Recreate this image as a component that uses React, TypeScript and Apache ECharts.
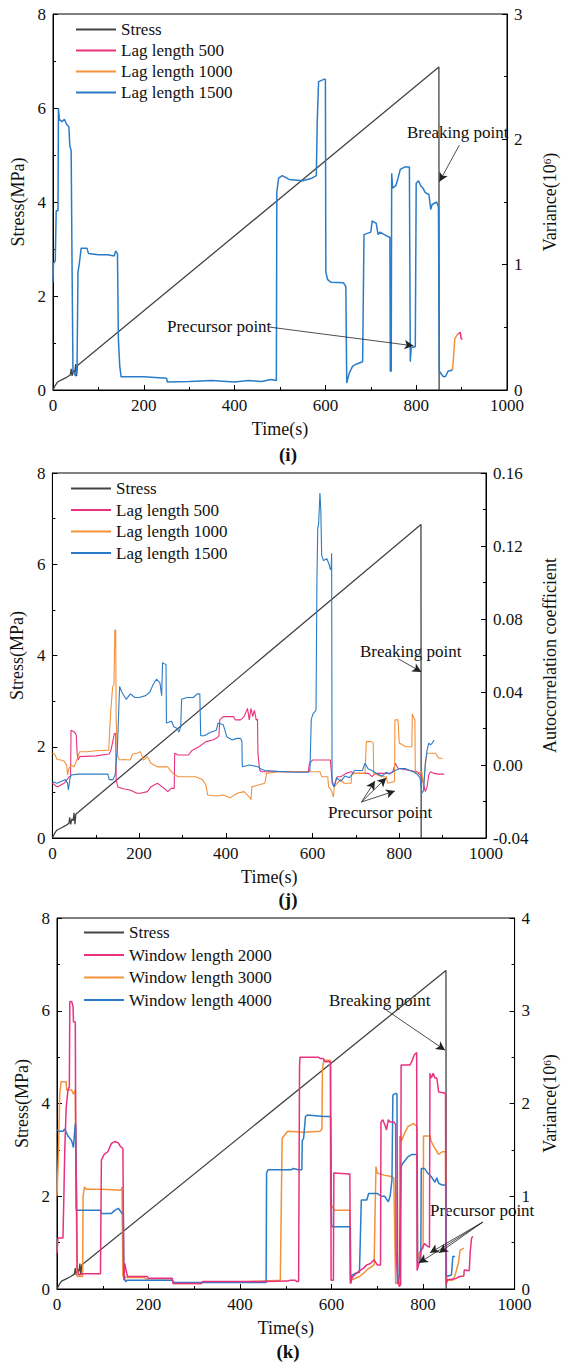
import React, { useEffect, useRef } from "react";
import * as echarts from "echarts";

const FONT = "'Liberation Serif', 'Times New Roman', serif";
const C_STRESS = "#444444";
const C_PINK = "#e8327f";
const C_ORANGE = "#f4923a";
const C_BLUE = "#2a7cc8";

// Stress (MPa) vs time (s), shared by the three panels
const stress: number[][] = [
  [0, 0], [5, 0.1], [10, 0.17], [20, 0.22], [30, 0.27], [38, 0.32], [40, 0.45], [42, 0.3],
  [45, 0.42], [48, 0.38], [50, 0.55], [52, 0.3], [54, 0.52], [850, 6.87], [850.5, 0],
];

// Panel (i): variance (10^6)
const iLag1500: number[][] = [
  [0, 0.86], [1, 1.01], [5, 1.03], [7, 1.43], [11, 1.43], [12, 2.25], [14, 2.16], [20, 2.14],
  [25, 2.16], [30, 2.12], [35, 2.1], [37, 1.95], [40, 1.91], [42, 0.98], [44, 0.15], [47, 0.13],
  [50, 0.11], [53, 0.19], [55, 0.94], [58, 1.01], [62, 1.13], [75, 1.13], [78, 1.09], [100, 1.08],
  [120, 1.08], [135, 1.07], [138, 1.11], [142, 1.09], [144, 0.41], [147, 0.19], [150, 0.105],
  [200, 0.105], [250, 0.094], [252, 0.064], [300, 0.068], [350, 0.075], [400, 0.064], [430, 0.075],
  [460, 0.068], [480, 0.083], [492, 0.075], [493, 1.58], [497, 1.69], [505, 1.71], [520, 1.68],
  [550, 1.67], [570, 1.69], [580, 1.71], [582, 2.14], [585, 2.46], [598, 2.48], [600, 2.48],
  [601, 0.94], [605, 0.88], [612, 0.86], [640, 0.855], [645, 0.825], [647, 0.056], [652, 0.13],
  [660, 0.19], [670, 0.21], [682, 0.225], [685, 1.24], [700, 1.26], [703, 1.35], [712, 1.33],
  [716, 1.24], [720, 1.26], [740, 1.22], [742, 1.22], [743, 0.15], [745, 0.15], [746, 1.73],
  [748, 1.61], [755, 1.63], [760, 1.69], [765, 1.76], [775, 1.78], [785, 1.78], [787, 0.225],
  [789, 0.34], [798, 0.345], [800, 1.65], [805, 1.67], [810, 1.63], [815, 1.61], [820, 1.575],
  [828, 1.56], [832, 1.44], [835, 1.48], [845, 1.5], [849, 1.46], [851, 0.15], [855, 0.13],
  [860, 0.105], [865, 0.11], [870, 0.15], [880, 0.16],
];
const iLag1000: number[][] = [[880, 0.16], [883, 0.3], [885, 0.41], [890, 0.44], [893, 0.45]];
const iLag500: number[][] = [[893, 0.45], [897, 0.46], [899, 0.41], [902, 0.405]];

// Panel (j): autocorrelation coefficient
const jLag500: number[][] = [
  [0, -0.01], [11, -0.012], [27, -0.01], [39, -0.0064], [42, -0.006], [43, 0.019], [51, 0.018],
  [55, 0.0164], [57, 0.0064], [59, 0.0027], [63, 0.0046], [100, 0.005], [131, 0.006], [135, 0.008],
  [143, 0.0173], [146, 0.0173], [147, -0.008], [151, -0.012], [163, -0.013], [179, -0.0137],
  [195, -0.0155], [203, -0.0155], [219, -0.0146], [227, -0.012], [242, -0.01], [258, -0.0128],
  [266, -0.0146], [274, -0.0128], [281, -0.0128], [282, 0.0064], [290, 0.0055], [314, 0.0055],
  [322, 0.008], [338, 0.01], [354, 0.0128], [370, 0.0137], [378, 0.0146], [384, 0.016],
  [386, 0.0247], [394, 0.0265], [418, 0.0265], [422, 0.0247], [434, 0.0247], [442, 0.0265],
  [450, 0.031], [454, 0.0247], [458, 0.031], [462, 0.0265], [466, 0.03], [470, 0.0247],
  [473, 0.025], [474, 0.0064], [478, -0.0027], [482, -0.0037], [520, -0.0037], [560, -0.0037],
  [590, -0.0037], [593, 0.001], [600, 0.0027], [641, 0.0027], [645, -0.008], [649, -0.012],
  [657, -0.0064], [665, -0.0064], [677, -0.0046], [689, -0.0037], [697, -0.0046], [729, -0.0046],
  [737, -0.0064], [745, -0.0046], [777, -0.0046], [785, -0.0037], [791, 0.001], [797, -0.0018],
  [817, -0.0027], [841, -0.0037], [852, -0.0064], [860, -0.0146], [864, -0.012], [868, -0.0055],
  [872, -0.0037], [880, -0.0046], [890, -0.005], [904, -0.005],
];
const jLag1000: number[][] = [
  [0, 0.0064], [5, 0.006], [11, 0.003], [20, 0.0027], [27, 0.002], [33, 0], [35, -0.0055],
  [38, -0.002], [43, 0], [50, -0.001], [55, 0.002], [59, 0.0046], [63, 0.0073], [80, 0.0073],
  [100, 0.0078], [120, 0.008], [130, 0.0082], [132, 0.019], [135, 0.031], [139, 0.043],
  [142, 0.044], [144, 0.074], [146, 0.074], [147, 0.025], [150, 0.006], [151, 0.0046],
  [155, 0.0027], [165, 0.003], [179, 0.0027], [185, 0.006], [195, 0.0064], [203, 0.0073],
  [210, 0.0027], [219, 0.0046], [227, 0.001], [242, -0.001], [266, -0.001], [272, -0.003],
  [280, -0.005], [290, -0.0064], [330, -0.0064], [346, -0.008], [354, -0.011], [358, -0.0164],
  [378, -0.017], [394, -0.0164], [410, -0.018], [426, -0.0155], [442, -0.0146], [456, -0.018],
  [458, -0.019], [460, -0.012], [475, -0.011], [490, -0.01], [494, -0.0046], [520, -0.0037],
  [617, -0.0037], [621, -0.0064], [635, -0.0064], [637, -0.012], [643, -0.0137], [648, -0.0175],
  [650, -0.012], [657, -0.01], [665, -0.008], [673, -0.01], [689, -0.01], [690, -0.0055],
  [697, -0.0046], [721, -0.0046], [724, 0.0128], [735, 0.0128], [740, 0.012], [741, -0.0046],
  [760, -0.0064], [770, -0.0064], [773, -0.01], [789, -0.009], [790, 0.0247], [797, 0.0247],
  [800, 0.012], [815, 0.01], [829, 0.01], [830, 0.028], [833, 0.026], [836, 0.025],
  [837, -0.0046], [852, -0.0037], [856, -0.012], [860, 0], [864, 0.0064], [884, 0.0064],
  [888, 0.0046], [892, 0.0037], [900, 0.0037],
];
const jLag1500: number[][] = [
  [0, -0.009], [10, -0.01], [20, -0.009], [30, -0.008], [35, -0.01], [37, -0.0137], [40, -0.008],
  [43, -0.0055], [60, -0.005], [90, -0.0049], [128, -0.005], [131, -0.008], [140, -0.008],
  [145, -0.005], [150, 0.01], [153, 0.03], [155, 0.043], [160, 0.04], [170, 0.036], [180, 0.039],
  [190, 0.037], [200, 0.037], [215, 0.038], [225, 0.04], [232, 0.044], [240, 0.047], [248, 0.045],
  [252, 0.038], [254, 0.056], [262, 0.055], [263, 0.023], [275, 0.024], [280, 0.021], [288, 0.02],
  [292, 0.018], [296, 0.021], [298, 0.036], [310, 0.037], [325, 0.037], [334, 0.039],
  [340, 0.039], [342, 0.016], [350, 0.016], [365, 0.018], [378, 0.019], [382, 0.023],
  [394, 0.022], [398, 0.019], [402, 0.0155], [415, 0.0137], [426, 0.0146], [434, 0.0146],
  [437, 0.013], [438, -0.001], [455, 0], [474, -0.001], [480, -0.002], [490, -0.003],
  [520, -0.0035], [560, -0.004], [590, -0.004], [594, -0.003], [597, 0.025], [601, 0.028],
  [608, 0.03], [610, 0.1], [612, 0.13], [614, 0.132], [617, 0.149], [619, 0.14], [621, 0.115],
  [625, 0.112], [633, 0.113], [638, 0.11], [641, 0.107], [643, 0.108], [644, 0.116], [645, -0.01],
  [650, -0.012], [655, -0.007], [665, -0.009], [675, -0.006], [685, -0.007], [697, -0.003],
  [715, -0.003], [721, 0.001], [728, -0.002], [737, -0.003], [750, -0.005], [761, -0.006],
  [770, -0.004], [777, -0.005], [790, -0.003], [801, -0.002], [815, -0.002], [825, -0.003],
  [835, -0.004], [841, -0.005], [848, -0.007], [852, -0.0155], [856, -0.014], [860, 0.001],
  [864, 0.008], [868, 0.012], [872, 0.011], [876, 0.012], [880, 0.0137],
];

// Panel (k): variance (10^6)
const kWin2000: number[][] = [
  [0, 0.385], [2, 0.55], [13, 0.55], [15, 1.0], [17, 1.5], [20, 1.95], [24, 2.15], [27, 2.18],
  [28, 3.1], [32, 3.1], [35, 3.05], [36, 2.88], [40, 2.88], [41, 1.5], [43, 1.0], [44, 0.225],
  [48, 0.15], [55, 0.165], [95, 0.165], [97, 1.39], [103, 1.45], [111, 1.48], [119, 1.57],
  [127, 1.59], [134, 1.575], [138, 1.54], [144, 1.515], [146, 0.095], [148, 0.275], [150, 0.225],
  [154, 0.135], [197, 0.135], [200, 0.115], [252, 0.115], [254, 0.06], [315, 0.06], [318, 0.08],
  [457, 0.08], [504, 0.085], [510, 0.095], [520, 0.095], [524, 0.08], [528, 0.08], [530, 2.4],
  [531, 2.5], [571, 2.5], [575, 2.485], [582, 2.485], [586, 2.45], [598, 2.45], [599, 0.095],
  [604, 0.095], [605, 1.25], [640, 1.24], [641, 0.06], [645, 0.125], [655, 0.175], [670, 0.225],
  [677, 0.26], [685, 0.275], [693, 0.315], [700, 0.26], [707, 0.26], [708, 1.8], [712, 1.825],
  [718, 1.75], [720, 1.715], [724, 1.825], [728, 1.8], [736, 1.8], [740, 1.775], [741, 0.4],
  [744, 0.135], [748, 0.025], [751, 0.05], [752, 2.415], [771, 2.415], [775, 2.45], [781, 2.525],
  [786, 2.55], [787, 0.2], [791, 0.275], [795, 0.4], [799, 0.45], [803, 0.49], [810, 0.46],
  [814, 0.45], [815, 2.325], [818, 2.275], [822, 2.325], [826, 2.275], [830, 2.275], [834, 2.125],
  [849, 2.11], [850, 0.05], [854, 0.1], [870, 0.11], [880, 0.135], [889, 0.14], [890, 0.205],
  [897, 0.2], [901, 0.2], [903, 0.4], [906, 0.55], [909, 0.565],
];
const kWin3000: number[][] = [
  [0, 1.0], [3, 1.425], [6, 2.1], [9, 2.235], [20, 2.235], [21, 2.145], [32, 2.145], [36, 2.1],
  [40, 2.15], [42, 1.0], [44, 0.135], [56, 0.135], [57, 1.0], [60, 1.1], [64, 1.075], [100, 1.075],
  [140, 1.065], [142, 1.1], [144, 0.135], [146, 0.15], [150, 0.125], [190, 0.125], [200, 0.095],
  [252, 0.095], [254, 0.06], [315, 0.06], [320, 0.075], [400, 0.075], [488, 0.095], [492, 1.625],
  [496, 1.65], [504, 1.7], [540, 1.69], [575, 1.7], [579, 1.725], [580, 2.36], [583, 2.465],
  [597, 2.465], [598, 0.89], [602, 0.89], [606, 0.85], [640, 0.85], [641, 0.095], [645, 0.1],
  [661, 0.135], [669, 0.165], [677, 0.205], [693, 0.26], [697, 1.32], [700, 1.25], [716, 1.225],
  [728, 1.215], [736, 1.2], [740, 0.06], [748, 0.06], [749, 1.65], [753, 1.6], [759, 1.675],
  [767, 1.75], [779, 1.785], [787, 1.75], [788, 0.3], [791, 0.375], [795, 0.425], [800, 0.44],
  [801, 1.65], [815, 1.65], [818, 1.59], [826, 1.515], [834, 1.45], [842, 1.48], [849, 1.48],
  [850, 0.135], [854, 0.095], [865, 0.095], [869, 0.135], [877, 0.275], [881, 0.42], [889, 0.44],
  [890, 0.44],
];
const kWin4000: number[][] = [
  [0, 1.715], [5, 1.7], [13, 1.7], [17, 1.725], [24, 1.65], [32, 1.6], [36, 1.525], [40, 1.785],
  [41, 1.75], [42, 0.85], [95, 0.85], [97, 0.815], [119, 0.815], [127, 0.85], [134, 0.87],
  [142, 0.815], [145, 0.815], [146, 0.135], [150, 0.08], [154, 0.095], [252, 0.095], [254, 0.07],
  [457, 0.07], [458, 1.25], [461, 1.285], [512, 1.285], [516, 1.3], [528, 1.285], [535, 1.285],
  [536, 1.6], [539, 1.625], [543, 1.86], [547, 1.875], [583, 1.86], [598, 1.86], [600, 0.69],
  [602, 0.67], [641, 0.67], [642, 0.06], [645, 0.15], [653, 0.17], [661, 0.18], [665, 0.96],
  [677, 0.96], [681, 1.03], [700, 1.03], [708, 1.0], [716, 1.0], [724, 0.94], [728, 1.0],
  [732, 1.175], [734, 2.09], [740, 2.11], [743, 2.1], [744, 0.06], [748, 0.135], [752, 1.32],
  [755, 1.35], [767, 1.425], [775, 1.45], [787, 1.45], [788, 0.275], [795, 0.3], [796, 1.3],
  [803, 1.3], [810, 1.25], [818, 1.21], [826, 1.15], [830, 1.2], [834, 1.14], [842, 1.12],
  [850, 1.12], [851, 0.135], [862, 0.15], [865, 0.35], [870, 0.35],
];

const xTicks = [0, 200, 400, 600, 800, 1000];

function lineSeries(name: string, data: number[][], xi: number, yi: number, color: string, width: number, extra: any = {}) {
  return {
    type: "line", name, data, xAxisIndex: xi, yAxisIndex: yi,
    showSymbol: false, symbol: "none", silent: true,
    lineStyle: { color, width }, itemStyle: { color }, ...extra,
  };
}

function arrows(lines: number[][][]) {
  return {
    markLine: {
      silent: true, animation: false,
      symbol: ["none", "arrow"], symbolSize: [7, 9],
      lineStyle: { color: "#222", width: 0.8, type: "solid" },
      label: { show: false },
      data: lines.map(([a, b]) => [{ coord: a }, { coord: b }]),
    },
  };
}

function xAxis(gi: number) {
  return {
    type: "value", gridIndex: gi, min: xTicks[0], max: xTicks[xTicks.length - 1], interval: 200,
    name: "Time(s)", nameLocation: "middle", nameGap: 30,
    nameTextStyle: { fontFamily: FONT, fontSize: 18, color: "#111" },
    axisLine: { show: true, lineStyle: { color: "#000", width: 1 } },
    axisTick: { show: true, inside: true, length: 5, lineStyle: { color: "#000" } },
    minorTick: { show: true, splitNumber: 2, length: 3, lineStyle: { color: "#000" } },
    axisLabel: { fontFamily: FONT, fontSize: 17, color: "#111", margin: 7, formatter: (v: number) => String(v) },
    splitLine: { show: false },
  };
}

function yAxis(gi: number, pos: string, min: number, max: number, interval: number, name: any, nameGap: number, fmt?: (v: number) => string, rich?: any) {
  return {
    type: "value", gridIndex: gi, position: pos, min, max, interval,
    name, nameLocation: "middle", nameGap, nameRotate: 90,
    nameTextStyle: { fontFamily: FONT, fontSize: 18, color: "#111", rich },
    axisLine: { show: true, onZero: false, lineStyle: { color: "#000", width: 1 } },
    axisTick: { show: true, inside: true, length: 5, lineStyle: { color: "#000" } },
    minorTick: { show: true, splitNumber: 2, length: 3, lineStyle: { color: "#000" } },
    axisLabel: { fontFamily: FONT, fontSize: 17, color: "#111", margin: 7, formatter: fmt || ((v: number) => String(v)) },
    splitLine: { show: false },
  };
}

const supRich = {
  sup: { fontFamily: FONT, fontSize: 11, verticalAlign: "top", lineHeight: 11, color: "#111" },
};

function legend(names: string[], left: number, top: number, gap: number) {
  return {
    data: names, orient: "vertical", left, top, itemWidth: 40, itemHeight: 17, itemGap: gap,
    selectedMode: false,
    itemStyle: { opacity: 0, borderWidth: 0 },
    textStyle: { fontFamily: FONT, fontSize: 17, color: "#111", lineHeight: 17 },
  };
}

function text(str: string, x: number, y: number, size = 17, weight = "normal", align = "left") {
  return {
    type: "text", x, y, silent: true,
    style: { text: str, fontFamily: FONT, fontSize: size, fontWeight: weight, fill: "#111", align, verticalAlign: "middle" },
  };
}

export default function App() {
  const ref = useRef<HTMLDivElement>(null);
  useEffect(() => {
    if (!ref.current) return;
    const chart = echarts.init(ref.current, undefined, { renderer: "svg" });
    const lagNames = ["Stress", "Lag length 500", "Lag length 1000", "Lag length 1500"];
    const winNames = ["Stress", "Window length 2000", "Window length 3000", "Window length 4000"];
    chart.setOption({
      animation: false,
      grid: [
        { left: 53, top: 14, width: 466, height: 376, show: true, borderColor: "#000", borderWidth: 1 },
        { left: 46, top: 473, width: 453, height: 365, show: true, borderColor: "#000", borderWidth: 1 },
        { left: 57, top: 918, width: 460, height: 371, show: true, borderColor: "#000", borderWidth: 1 },
      ],
      xAxis: [xAxis(0), xAxis(1), xAxis(2)],
      yAxis: [
        yAxis(0, "left", 0, 8, 2, "Stress(MPa)", 16),
        yAxis(0, "right", 0, 3, 1, "Variance(10{sup|6})", 34, undefined, supRich),
        yAxis(1, "left", 0, 8, 2, "Stress(MPa)", 15),
        yAxis(1, "right", -0.04, 0.16, 0.04, "Autocorrelation coefficient", 55, (v: number) => v.toFixed(2)),
        yAxis(2, "left", 0, 8, 2, "Stress(MPa)", 15),
        yAxis(2, "right", 0, 4, 1, "Variance(10{sup|6})", 24, undefined, supRich),
      ],
      legend: [
        legend(lagNames, 70, 16, 4),
        legend(lagNames, 65, 475, 4.5),
        legend(winNames, 78, 919, 5.5),
      ],
      series: [
        lineSeries("Stress", stress, 0, 0, C_STRESS, 1.3, arrows([
          [[895, 5.21], [851, 4.43]],
          [[476, 1.34], [794, 0.94]],
        ])),
        lineSeries("Lag length 500", iLag500, 0, 1, C_PINK, 1.5),
        lineSeries("Lag length 1000", iLag1000, 0, 1, C_ORANGE, 1.5),
        lineSeries("Lag length 1500", iLag1500, 0, 1, C_BLUE, 1.5),

        lineSeries("Stress", stress, 1, 2, C_STRESS, 1.3, arrows([
          [[797, 3.93], [851, 3.64]],
          [[713, 0.79], [744, 1.25]],
          [[713, 0.79], [770, 1.32]],
          [[713, 0.79], [790, 1.03]],
        ])),
        lineSeries("Lag length 500", jLag500, 1, 3, C_PINK, 1.1),
        lineSeries("Lag length 1000", jLag1000, 1, 3, C_ORANGE, 1.1),
        lineSeries("Lag length 1500", jLag1500, 1, 3, C_BLUE, 1.1),

        lineSeries("Stress", stress, 2, 4, C_STRESS, 1.3, arrows([
          [[713, 6.06], [848, 5.15]],
          [[930, 1.44], [791, 0.56]],
          [[930, 1.44], [815, 0.78]],
          [[930, 1.44], [835, 0.78]],
        ])),
        lineSeries("Window length 3000", kWin3000, 2, 5, C_ORANGE, 1.5),
        lineSeries("Window length 4000", kWin4000, 2, 5, C_BLUE, 1.5),
        lineSeries("Window length 2000", kWin2000, 2, 5, C_PINK, 1.5),
      ],
      graphic: [
        text("(i)", 288, 454, 19, "bold", "center"),
        text("(j)", 288, 899, 19, "bold", "center"),
        text("(k)", 288, 1351, 19, "bold", "center"),
        text("Breaking point", 407, 132),
        text("Precursor point", 167, 326),
        text("Breaking point", 360, 651),
        text("Precursor point", 328, 812),
        text("Breaking point", 329, 1000),
        text("Precursor point", 430, 1210),
      ],
    });
    return () => chart.dispose();
  }, []);
  return (
    <div
      ref={ref}
      style={{ position: "absolute", left: 0, top: 0, width: 567, height: 1364, background: "#fff" }}
    />
  );
}
